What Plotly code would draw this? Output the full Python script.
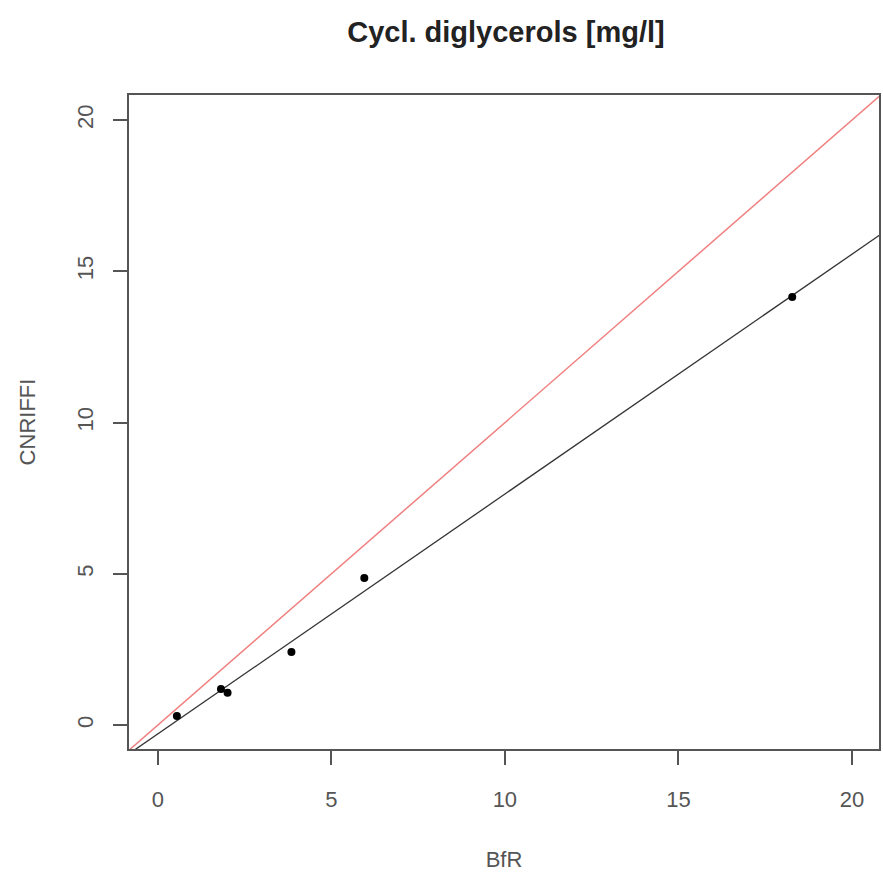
import numpy as np
import plotly.graph_objects as go

bfr = [0.55, 1.82, 2.01, 3.85, 5.95, 18.28]
cnriffi = [0.30, 1.19, 1.07, 2.42, 4.86, 14.15]
tick_vals = [0, 5, 10, 15, 20]
title = "Cycl. diglycerols [mg/l]"
x_label = "BfR"
y_label = "CNRIFFI"

x_rng = [-0.83, 20.78]
y_rng = [-0.79, 20.83]

slope, intercept = np.polyfit(bfr, cnriffi, 1)
lx = np.array([-5, 30])

FONT = "Liberation Sans, Arial"
fig = go.Figure()
fig.add_trace(go.Scatter(x=lx, y=lx, mode="lines", line=dict(color="#f08080", width=1.5), hoverinfo="skip"))
fig.add_trace(go.Scatter(x=lx, y=slope * lx + intercept, mode="lines", line=dict(color="#333333", width=1.3), hoverinfo="skip"))
fig.add_trace(go.Scatter(x=bfr, y=cnriffi, mode="markers", marker=dict(color="black", size=8)))

axis_common = dict(
    showline=True, linecolor="#555555", linewidth=2, mirror=True,
    ticks="outside", ticklen=14, tickwidth=1.5, tickcolor="#555555",
    showgrid=False, zeroline=False, tickvals=tick_vals,
    tickfont=dict(family=FONT, size=22, color="#555555"),
)
fig.update_xaxes(range=x_rng, title=dict(text=x_label, font=dict(family=FONT, size=22, color="#555555"), standoff=40),
                 ticklabelstandoff=16, **axis_common)
fig.update_yaxes(range=y_rng, tickangle=-90, title=dict(text=y_label, font=dict(family=FONT, size=22, color="#555555"), standoff=32),
                 ticklabelstandoff=11, **axis_common)

fig.update_layout(
    width=883, height=880,
    margin=dict(l=129, r=2, t=95, b=131),
    plot_bgcolor="white", paper_bgcolor="white",
    showlegend=False,
    title=dict(text="<b>" + title + "</b>", x=0.573, xanchor="center", y=0.964, yanchor="middle",
               font=dict(family=FONT, size=29, color="#222222")),
)
fig.write_html("out.html")
